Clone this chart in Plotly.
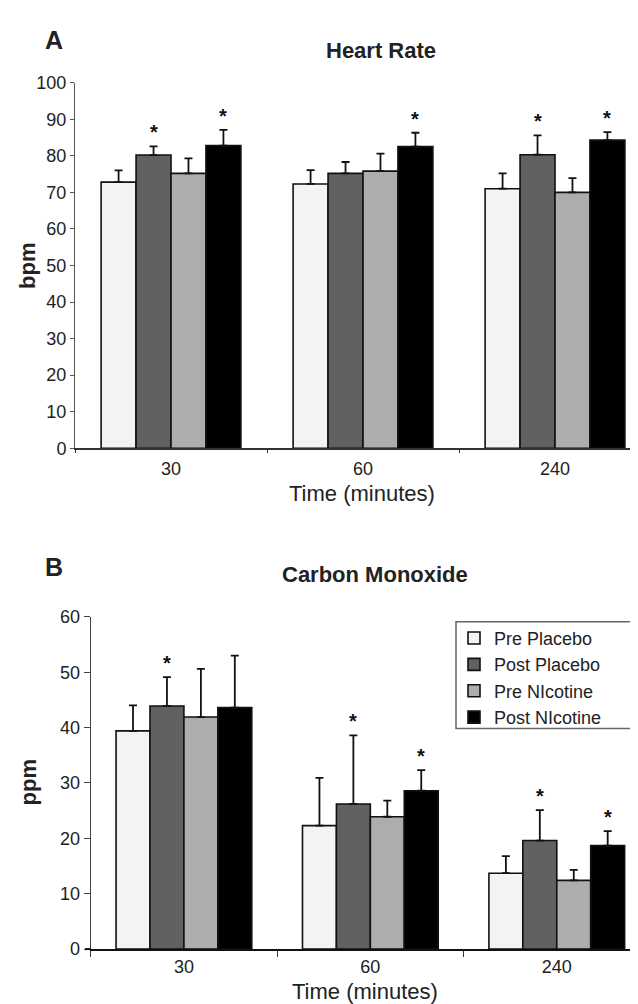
import plotly.graph_objects as go

W, H = 638, 1004

# ---------------- data ----------------
categories = ["30", "60", "240"]
series_names = ["Pre Placebo", "Post Placebo", "Pre NIcotine", "Post NIcotine"]

# Heart rate (bpm): means and upper error
hr_pre_placebo = [72.8, 72.3, 71.0]
hr_post_placebo = [80.2, 75.2, 80.3]
hr_pre_nicotine = [75.2, 75.8, 70.0]
hr_post_nicotine = [82.8, 82.5, 84.3]
hr_err_pre_placebo = [3.2, 3.8, 4.2]
hr_err_post_placebo = [2.4, 3.1, 5.3]
hr_err_pre_nicotine = [4.1, 4.8, 3.9]
hr_err_post_nicotine = [4.3, 3.8, 2.2]
hr_sig_pre_placebo = [0, 0, 0]
hr_sig_post_placebo = [1, 0, 1]
hr_sig_pre_nicotine = [0, 0, 0]
hr_sig_post_nicotine = [1, 1, 1]

# Carbon monoxide (ppm)
co_pre_placebo = [39.4, 22.3, 13.7]
co_post_placebo = [43.9, 26.2, 19.6]
co_pre_nicotine = [41.9, 23.9, 12.4]
co_post_nicotine = [43.6, 28.6, 18.7]
co_err_pre_placebo = [4.6, 8.6, 3.1]
co_err_post_placebo = [5.2, 12.4, 5.5]
co_err_pre_nicotine = [8.7, 2.9, 1.9]
co_err_post_nicotine = [9.4, 3.7, 2.6]
co_sig_pre_placebo = [0, 0, 0]
co_sig_post_placebo = [1, 1, 1]
co_sig_pre_nicotine = [0, 0, 0]
co_sig_post_nicotine = [0, 1, 1]

hr_ticks = list(range(0, 101, 10))
co_ticks = list(range(0, 61, 10))

# ---------------- style ----------------
colors = ["#f3f3f3", "#616161", "#adadad", "#000000"]
FONT = "Liberation Sans, Arial, sans-serif"
TXT = "#222222"
BARGAP = 0.272


def px(x):
    return x / W


def py(y):
    return 1 - y / H


hr_means = [hr_pre_placebo, hr_post_placebo, hr_pre_nicotine, hr_post_nicotine]
hr_errs = [hr_err_pre_placebo, hr_err_post_placebo, hr_err_pre_nicotine, hr_err_post_nicotine]
hr_sigs = [hr_sig_pre_placebo, hr_sig_post_placebo, hr_sig_pre_nicotine, hr_sig_post_nicotine]
co_means = [co_pre_placebo, co_post_placebo, co_pre_nicotine, co_post_nicotine]
co_errs = [co_err_pre_placebo, co_err_post_placebo, co_err_pre_nicotine, co_err_post_nicotine]
co_sigs = [co_sig_pre_placebo, co_sig_post_placebo, co_sig_pre_nicotine, co_sig_post_nicotine]

fig = go.Figure()

for panel, (means, errs, xa, ya, show) in enumerate([
    (hr_means, hr_errs, "x", "y", False),
    (co_means, co_errs, "x2", "y2", True),
]):
    for i in range(4):
        fig.add_trace(go.Bar(
            x=categories, y=means[i], name=series_names[i],
            xaxis=xa, yaxis=ya, showlegend=show,
            marker=dict(color=colors[i], line=dict(color="#111111", width=1.6)),
            error_y=dict(type="data", symmetric=False, array=errs[i],
                         arrayminus=[0] * len(errs[i]), color="#111111",
                         thickness=1.8, width=4),
        ))

# asterisks above significant bars
n_series = 4
bar_w = (1 - BARGAP) / n_series
annotations = []
for means, errs, sigs, xr, yr in [
    (hr_means, hr_errs, hr_sigs, "x", "y"),
    (co_means, co_errs, co_sigs, "x2", "y2"),
]:
    for i in range(n_series):
        for j in range(len(categories)):
            if sigs[i][j]:
                annotations.append(dict(
                    x=j + (i - (n_series - 1) / 2) * bar_w,
                    y=means[i][j] + errs[i][j],
                    xref=xr, yref=yr, text="<b>*</b>", showarrow=False,
                    yanchor="bottom", yshift=1,
                    font=dict(family=FONT, size=20, color="#111111"),
                ))


def txt(text, x, y, size, bold=False, angle=0):
    return dict(text=f"<b>{text}</b>" if bold else text, x=px(x), y=py(y),
                xref="paper", yref="paper", showarrow=False,
                xanchor="center", yanchor="middle", textangle=angle,
                font=dict(family=FONT, size=size, color=TXT))


annotations += [
    txt("A", 46, 22, 25, True),
    txt("Heart Rate", 373, 33, 22, True),
    txt("bpm", 20, 253, 22, True, -90),
    txt("Time (minutes)", 354, 485, 22),
    txt("B", 46, 560, 25, True),
    txt("Carbon Monoxide", 367, 568, 22, True),
    txt("ppm", 20, 780, 22, True, -90),
    txt("Time (minutes)", 357, 993, 22),
]

axis_common = dict(showgrid=False, zeroline=False, ticks="outside",
                   tickfont=dict(family=FONT, size=18, color=TXT))

fig.update_layout(
    width=W, height=H, margin=dict(l=0, r=0, t=0, b=0),
    paper_bgcolor="white", plot_bgcolor="white",
    barmode="group", bargap=BARGAP, bargroupgap=0,
    font=dict(family=FONT, color=TXT),
    xaxis=dict(domain=[px(67), 1], anchor="y", type="category",
               range=[-0.5, 2.5 - 5 / 192], showline=True, linecolor="#333333",
               linewidth=1.5, tickson="boundaries", ticklen=3, tickcolor="#333333",
               ticklabelstandoff=3, **axis_common),
    yaxis=dict(domain=[py(439), py(66)], anchor="x", range=[0, 100],
               tickvals=hr_ticks, showline=True, linecolor="#555555", linewidth=1,
               ticklen=4, tickcolor="#555555", **axis_common),
    xaxis2=dict(domain=[px(82.7), 1], anchor="y2", type="category",
                range=[-0.5, 2.5 - 4 / 186.5], showline=True, linecolor="#111111",
                linewidth=2, tickson="boundaries", ticklen=6, tickcolor="#333333",
                ticklabelstandoff=0, **axis_common),
    yaxis2=dict(domain=[py(950), py(611)], anchor="x2", range=[0, 60],
                tickvals=co_ticks, showline=True, linecolor="#444444", linewidth=1,
                ticklen=6, tickcolor="#444444", **axis_common),
    legend=dict(x=px(446), y=py(614), xanchor="left", yanchor="top",
                bgcolor="rgba(0,0,0,0)", borderwidth=0,
                font=dict(family=FONT, size=18, color=TXT), traceorder="normal"),
    annotations=annotations,
    shapes=[
        dict(type="rect", xref="paper", yref="paper", x0=px(448), x1=px(632),
             y0=py(725), y1=py(616), line=dict(color="#666666", width=1.5)),
        dict(type="line", xref="paper", yref="paper", x0=px(77), x1=px(83),
             y0=py(950), y1=py(950), line=dict(color="#111111", width=2)),
    ],
)

fig.write_html("out.html")
